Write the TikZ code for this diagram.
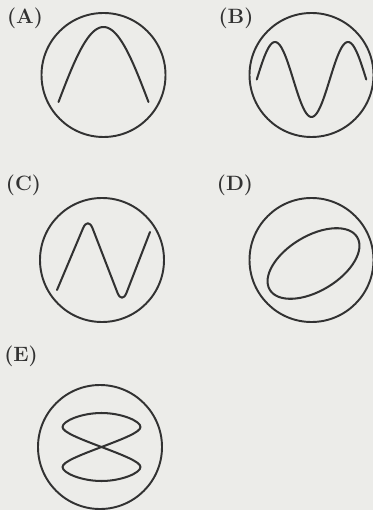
\documentclass[tikz,border=0pt]{standalone}
\usepackage{tikz}
\usetikzlibrary{positioning}
\definecolor{inkcolor}{RGB}{50,50,50}
\definecolor{papercolor}{RGB}{236,236,233}

\begin{document}
\begin{tikzpicture}[
    screen/.style={circle,draw=inkcolor,line width=1.1pt,minimum size=2.48cm,inner sep=0pt},
    trace/.style={inkcolor,line width=1.15pt,line cap=round,line join=round},
    tag/.style={text=inkcolor,font=\fontsize{11.8}{13}\selectfont\bfseries,inner sep=0pt}]
    \fill[papercolor] (0,0) rectangle (7.46,-10.2);
    \useasboundingbox (0,0) rectangle (7.46,-10.2);
    \foreach \n/\x/\y in {A/2.07/-1.50,B/6.23/-1.50,C/2.04/-5.20,D/6.23/-5.20,E/2.00/-8.94}
      \node[screen] (screen\n) at (\x,\y) {};
    \foreach \n/\x/\y in {A/0.50/-0.36,B/4.72/-0.36,C/0.47/-3.70,D/4.70/-3.70,E/0.42/-7.13}
      \node[tag] (tag\n) at (\x,\y) {(\n)};
    \draw[trace,shift={(screenA.center)},domain=-90:90,samples=60,smooth]
      plot ({0.9*\x/90},{-0.54+1.5*cos(\x)});
    \draw[trace,shift={(screenB.center)},domain=-270:270,samples=90,smooth]
      plot ({0.73*\x/180},{-0.09-0.75*cos(\x)});
    \draw[trace,shift={(screenC.center)},rounded corners=2.5mm]
      (-0.90,-0.60) -- (-0.28,0.87) -- (0.40,-0.89) -- (0.96,0.56);
    \draw[trace,shift={(screenD.center)}]
      (0.04,-0.07) ellipse[x radius=1.02,y radius=0.55,rotate=31];
    \draw[trace,shift={(screenE.center)},xshift=0.3mm] (0,0)
      .. controls (-0.45,0.17) and (-0.78,0.30) .. (-0.78,0.40)
      .. controls (-0.78,0.52) and (-0.40,0.68) .. (0,0.68)
      .. controls (0.40,0.68) and (0.78,0.52) .. (0.78,0.40)
      .. controls (0.78,0.30) and (0.45,0.17) .. (0,0)
      .. controls (-0.45,-0.17) and (-0.78,-0.30) .. (-0.78,-0.40)
      .. controls (-0.78,-0.52) and (-0.40,-0.68) .. (0,-0.68)
      .. controls (0.40,-0.68) and (0.78,-0.52) .. (0.78,-0.40)
      .. controls (0.78,-0.30) and (0.45,-0.17) .. (0,0);
\end{tikzpicture}
\end{document}
